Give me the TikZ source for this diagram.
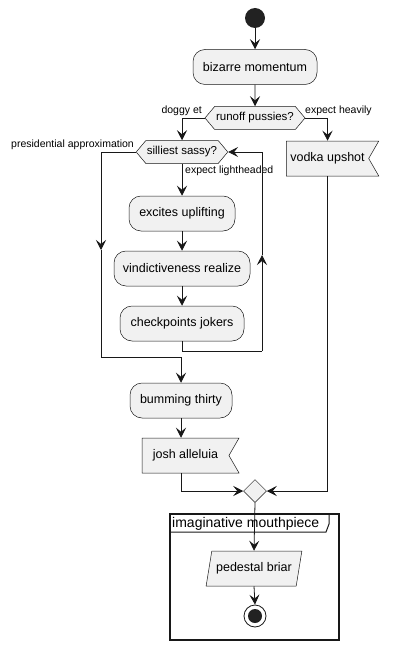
\documentclass[tikz,border=0pt]{standalone}
\usepackage{fontspec}
\setmainfont{Liberation Sans}
\usetikzlibrary{shapes.symbols,shapes.geometric,arrows.meta,positioning}
\definecolor{cfill}{HTML}{F1F1F1}
\definecolor{cline}{HTML}{181818}
\definecolor{cdot}{HTML}{222222}
\tikzset{act/.style={draw=cline, fill=cfill, rounded corners=12pt, minimum height=35pt, inner sep=4pt, font=\fontsize{12.5}{14}\selectfont, line width=0.5pt}}
\tikzset{hexa/.style={draw=cline, fill=cfill, signal, signal to=west and east, signal pointer angle=100, minimum height=23pt, inner sep=1pt, font=\fontsize{11.5}{13}\selectfont, line width=0.5pt}}
\tikzset{flag/.style={draw=cline, fill=cfill, signal, signal to=nowhere, signal from=east, signal pointer angle=120, minimum height=35pt, inner sep=4pt, font=\fontsize{12.5}{14}\selectfont, line width=0.5pt}}
\tikzset{para/.style={draw=cline, fill=cfill, trapezium, trapezium stretches=true, trapezium left angle=74, trapezium right angle=106, minimum height=35pt, minimum width=96pt, inner sep=4pt, font=\fontsize{12.5}{14}\selectfont, line width=0.5pt}}
\tikzset{merge/.style={draw=cline, fill=cfill, diamond, minimum size=23pt, inner sep=0pt, line width=0.5pt}}
\tikzset{lbl/.style={draw=none, fill=none, inner sep=1pt, font=\fontsize{10.5}{13}\selectfont}}
\tikzset{arr/.style={-{Stealth[length=10pt, width=10pt, inset=4pt]}, line width=0.8pt, draw=cline}}
\tikzset{ln/.style={line width=0.8pt, draw=cline}}

\begin{document}
\begin{tikzpicture}[x=1pt, y=-1pt]
        \useasboundingbox (0,0) rectangle (405,650);

        %%% PARTITION FRAME %%%
        \draw[line width=1.3pt, cline] (170,514) rectangle (339,640);
        \draw[line width=1.0pt, cline] (170,532) -- (326,532) -- (329,524) -- (329,514);
        \node[lbl, anchor=west, font=\fontsize{14}{15}\selectfont] (imag) at (171,523.5) {imaginative mouthpiece};

        %%% TOP %%%
        \node[circle, fill=cdot, minimum size=20pt, inner sep=0pt] (start) at (255,18) {};
        \node[act, minimum width=124pt] (bizarre) at (255,67) {bizarre momentum};
        \node[hexa, minimum width=100pt] (runoff) at (255,118) {runoff pussies?};
        \node[lbl, anchor=east] (doggy) at (203,111) {doggy et};
        \node[lbl, anchor=west] (heavily) at (304,111) {expect heavily};

        %%% LOOP %%%
        \node[hexa, minimum width=90pt] (silliest) at (182,152) {silliest sassy?};
        \node[lbl, anchor=east] (presid) at (135,145) {presidential approximation};
        \node[lbl, anchor=west] (lighth) at (184,171) {expect lightheaded};
        \node[act, minimum width=106pt] (excites) at (182,213.5) {excites uplifting};
        \node[act, minimum width=136pt] (vindict) at (182,268.5) {vindictiveness realize};
        \node[act, minimum width=124pt] (checkp) at (182,323.5) {checkpoints jokers};
        \coordinate (loopr) at (262,351);
        \coordinate (loopm) at (262,255);
        \coordinate (leftm) at (101,250);
        \coordinate (leftd) at (101,357);

        %%% RIGHT BRANCH %%%
        \node[flag, minimum width=91pt] (vodka) at (327.5,158.5) {vodka upshot};

        %%% BOTTOM %%%
        \node[act, minimum width=102pt] (bumming) at (181,400.5) {bumming thirty};
        \node[flag, minimum width=97pt] (josh) at (185.5,455.5) {josh alleluia};
        \node[merge] (join) at (255,491) {};
        \node[para] (pedestal) at (254,568.5) {pedestal briar};
        \node[circle, draw=cline, fill=white, line width=0.8pt, minimum size=22pt, inner sep=0pt] (stop) at (255,616) {};
        \node[circle, fill=cdot, minimum size=14pt, inner sep=0pt] (stopin) at (stop) {};

        %%% ARROWS %%%
        \draw[arr] (start) -- (bizarre);
        \draw[arr] (bizarre) -- (runoff);
        \draw[arr] (runoff.west) -| (silliest.north);
        \draw[arr] (runoff.east) -| (vodka.north);
        \draw[arr] (silliest.south) -- (excites.north);
        \draw[arr] (excites) -- (vindict);
        \draw[arr] (vindict) -- (checkp);
        \draw[ln] (checkp.south) |- (loopr);
        \draw[arr] (loopr) -- (loopm);
        \draw[arr] (loopm) |- (silliest.east);
        \draw[arr] (silliest.west) -| (leftm);
        \draw[arr] (leftm) -- (leftd) -| (bumming.north);
        \draw[arr] (bumming.south) -- (bumming.south |- josh.north);
        \draw[arr] (josh.south -| bumming.south) |- (join.west);
        \draw[arr] (vodka.south) |- (join.east);
        \draw[arr] (join.south) -- (pedestal.north);
        \draw[arr] (pedestal.south) -- (stop.north);
\end{tikzpicture}
\end{document}
